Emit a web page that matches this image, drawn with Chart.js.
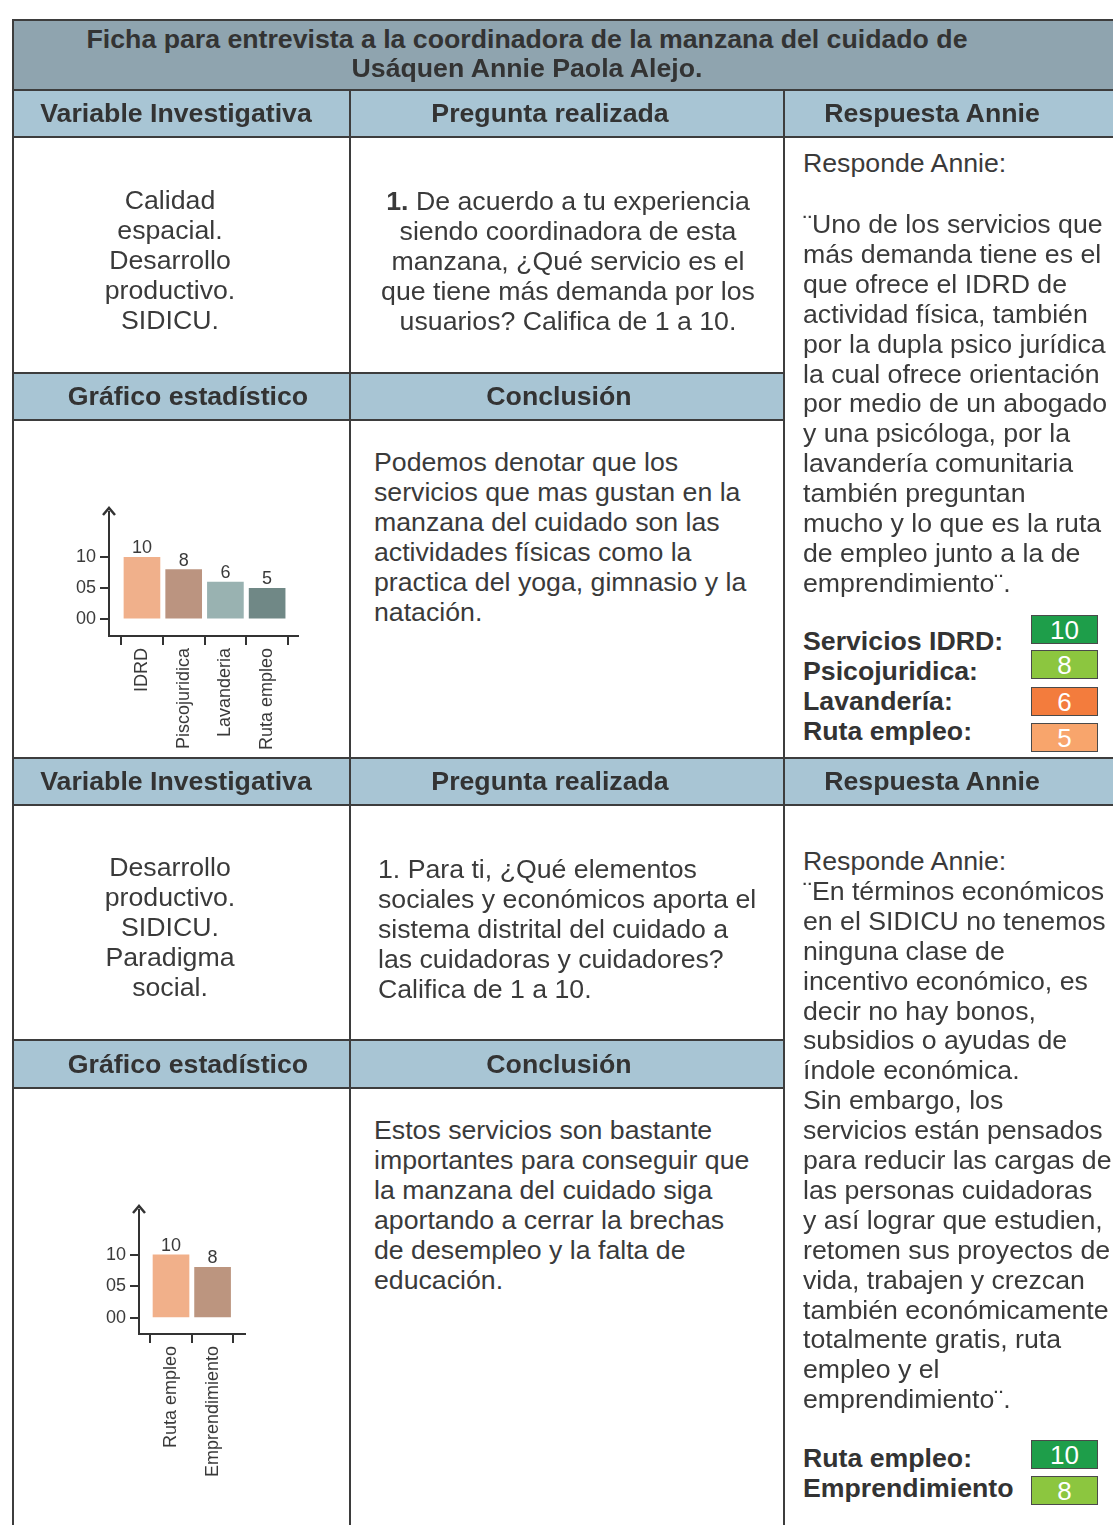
<!DOCTYPE html>
<html>
<head>
<meta charset="utf-8">
<script src="https://cdn.jsdelivr.net/npm/chart.js@4"></script>
<style>
  html, body { margin: 0; padding: 0; background: #fff; }
  #page { position: relative; width: 1113px; height: 1525px; overflow: hidden; background: #fff;
          font-family: 'Liberation Sans', Arial, sans-serif; color: #3a3a3a; }
  .fill { position: absolute; }
  .line { position: absolute; background: #3d3d3d; }
  .t { position: absolute; font-size: 26.7px; line-height: 30px; white-space: nowrap; }
  .b { font-weight: bold; color: #333; }
  .c { text-align: center; width: 1000px; }
  .box { position: absolute; width: 66px; border: 1px solid #4a4a4a; color: #fff; font-size: 26px;
         text-align: center; box-sizing: border-box; }
  canvas { position: absolute; }
</style>
</head>
<body>
<div id="page">
  <canvas id="chart1"></canvas>
  <canvas id="chart2"></canvas>
</div>
<script>
// data
const services1 = ['IDRD', 'Piscojuridica', 'Lavanderia', 'Ruta empleo'];
const ratings1 = [10, 8, 6, 5];
const barColors1 = ['#f0b08b', '#bb9480', '#99b2b1', '#708886'];

const services2 = ['Ruta empleo', 'Emprendimiento'];
const ratings2 = [10, 8];
const barColors2 = ['#f1b08a', '#bc957f'];

const yTickValues = [0, 5, 10];

const scoreLabels1 = ['Servicios IDRD:', 'Psicojuridica:', 'Lavandería:', 'Ruta empleo:'];
const scoreValues1 = [10, 8, 6, 5];
const scoreLabels2 = ['Ruta empleo:', 'Emprendimiento'];
const scoreValues2 = [10, 8];
const scoreColors = ['#1e9e4a', '#8cc63f', '#f37c3d', '#f8a56c'];

const page = document.getElementById('page');

function rect(x, y, w, h, color, cls) {
  const d = document.createElement('div');
  d.className = cls || 'fill';
  d.style.left = x + 'px'; d.style.top = y + 'px';
  d.style.width = w + 'px'; d.style.height = h + 'px';
  d.style.background = color;
  page.appendChild(d);
  return d;
}
// text line, y = visual middle of the line
function text(x, y, str, opts) {
  opts = opts || {};
  const d = document.createElement('div');
  d.className = 't' + (opts.bold ? ' b' : '') + (opts.center ? ' c' : '');
  d.style.left = (opts.center ? x - 500 : x) + 'px';
  d.style.top = (y - 15) + 'px';
  d.innerHTML = str;
  page.appendChild(d);
}
function lines(x, y0, arr, opts, step) {
  arr.forEach((s, i) => text(x, y0 + i * (step || 29.9), s, opts));
}

// cell fills
const dark = '#8fa4af', light = '#a8c5d4';
rect(12, 20, 1101, 70, dark);
rect(12, 90, 1101, 47, light);
rect(12, 373, 772, 47, light);
rect(12, 758, 1101, 47, light);
rect(12, 1040, 772, 48, light);

// borders
rect(12, 19, 1101, 2, '#3d3d3d', 'line');
rect(12, 19, 2, 1506, '#3d3d3d', 'line');
[89, 136, 757, 804].forEach(y => rect(12, y, 1101, 2, '#3d3d3d', 'line'));
[372, 419, 1039, 1087].forEach(y => rect(12, y, 772, 2, '#3d3d3d', 'line'));
rect(349, 89, 2, 1436, '#3d3d3d', 'line');
rect(783, 89, 2, 1436, '#3d3d3d', 'line');

// title
text(527, 39, 'Ficha para entrevista a la coordinadora de la manzana del cuidado de', { bold: true, center: true });
text(527, 68, 'Usáquen Annie Paola Alejo.', { bold: true, center: true });

// headers
[113, 781].forEach(y => {
  text(176, y, 'Variable Investigativa', { bold: true, center: true });
  text(550, y, 'Pregunta realizada', { bold: true, center: true });
  text(932, y, 'Respuesta Annie', { bold: true, center: true });
});
[396, 1064].forEach(y => {
  text(188, y, 'Gráfico estadístico', { bold: true, center: true });
  text(559, y, 'Conclusión', { bold: true, center: true });
});

// row 1
lines(170, 200, ['Calidad', 'espacial.', 'Desarrollo', 'productivo.', 'SIDICU.'], { center: true });
lines(568, 201, ['<b>1.</b> De acuerdo a tu experiencia', 'siendo coordinadora de esta',
  'manzana, ¿Qué servicio es el', 'que tiene más demanda por los', 'usuarios? Califica de 1 a 10.'], { center: true });
lines(374, 462, ['Podemos denotar que los', 'servicios que mas gustan en la', 'manzana del cuidado son las',
  'actividades físicas como la', 'practica del yoga, gimnasio y la', 'natación.']);
text(803, 163, 'Responde Annie:');
lines(803, 224, ['¨Uno de los servicios que', 'más demanda tiene es el', 'que ofrece el IDRD de',
  'actividad física, también', 'por la dupla psico jurídica', 'la cual ofrece orientación',
  'por medio de un abogado', 'y una psicóloga, por la', 'lavandería comunitaria',
  'también preguntan', 'mucho y lo que es la ruta', 'de empleo junto a la de', 'emprendimiento¨.']);
lines(803, 641, scoreLabels1, { bold: true });
const boxTops1 = [615, 650, 687, 723];
scoreValues1.forEach((v, i) => {
  const d = rect(1031, boxTops1[i], 67, 29, scoreColors[i], 'box');
  d.style.lineHeight = '28px';
  d.textContent = v;
});

// row 2
lines(170, 867, ['Desarrollo', 'productivo.', 'SIDICU.', 'Paradigma', 'social.'], { center: true });
lines(378, 869, ['1. Para ti, ¿Qué elementos', 'sociales y económicos aporta el', 'sistema distrital del cuidado a',
  'las cuidadoras y cuidadores?', 'Califica de 1 a 10.']);
lines(374, 1130, ['Estos servicios son bastante', 'importantes para conseguir que', 'la manzana del cuidado siga',
  'aportando a cerrar la brechas', 'de desempleo y la falta de', 'educación.']);
lines(803, 861, ['Responde Annie:', '¨En términos económicos', 'en el SIDICU no tenemos', 'ninguna clase de',
  'incentivo económico, es', 'decir no hay bonos,', 'subsidios o ayudas de', 'índole económica.',
  'Sin embargo, los', 'servicios están pensados', 'para reducir las cargas de', 'las personas cuidadoras',
  'y así lograr que estudien,', 'retomen sus proyectos de', 'vida, trabajen y crezcan',
  'también económicamente', 'totalmente gratis, ruta', 'empleo y el', 'emprendimiento¨.']);
lines(803, 1458, scoreLabels2, { bold: true });
const boxTops2 = [1440, 1476];
scoreValues2.forEach((v, i) => {
  const d = rect(1031, boxTops2[i], 67, 29, scoreColors[i], 'box');
  d.style.lineHeight = '28px';
  d.textContent = v;
});

// charts
const axisArrowAndLabels = {
  id: 'axisArrowAndLabels',
  afterDraw(chart) {
    const ctx = chart.ctx, a = chart.chartArea;
    ctx.save();
    ctx.strokeStyle = '#333'; ctx.lineWidth = 2.5;
    ctx.beginPath();
    ctx.moveTo(a.left - 6, a.top + 3);
    ctx.lineTo(a.left, a.top - 4);
    ctx.lineTo(a.left + 6, a.top + 3);
    ctx.stroke();
    ctx.fillStyle = '#3a3a3a';
    ctx.font = '18px "Liberation Sans", Arial, sans-serif';
    ctx.textAlign = 'center'; ctx.textBaseline = 'bottom';
    const meta = chart.getDatasetMeta(0);
    meta.data.forEach((bar, i) => {
      ctx.fillText(chart.data.datasets[0].data[i].y, bar.x, bar.y);
    });
    ctx.restore();
  }
};

function makeChart(id, pos, labels, values, colors, xr, yr, xAxisH) {
  const cv = document.getElementById(id);
  cv.width = pos.w; cv.height = pos.h;
  cv.style.left = pos.x + 'px'; cv.style.top = pos.y + 'px';
  cv.style.width = pos.w + 'px'; cv.style.height = pos.h + 'px';
  new Chart(cv, {
    type: 'bar',
    data: {
      datasets: [{
        data: values.map((v, i) => ({ x: i, y: v })),
        backgroundColor: colors,
        barThickness: 36,
        borderWidth: 0
      }]
    },
    options: {
      responsive: false,
      animation: false,
      devicePixelRatio: 1,
      layout: { padding: { top: pos.padTop, right: 12, left: 0, bottom: 0 } },
      plugins: { legend: { display: false }, tooltip: { enabled: false } },
      scales: {
        x: {
          type: 'linear', min: xr[0], max: xr[1], offset: false,
          afterBuildTicks: s => { s.ticks = labels.map((_, i) => ({ value: i })); },
          afterFit: s => { s.height = xAxisH; },
          ticks: {
            autoSkip: false, minRotation: 90, maxRotation: 90, padding: 3,
            color: '#3a3a3a', font: { family: 'Liberation Sans', size: 18 },
            callback: v => labels[v]
          },
          grid: { drawOnChartArea: false, drawTicks: true, tickLength: 9, color: '#333', lineWidth: 2 },
          border: { display: true, color: '#333', width: 2, dash: [5, 3] }
        },
        y: {
          min: yr[0], max: yr[1],
          afterBuildTicks: s => { s.ticks = yTickValues.map(v => ({ value: v })); },
          afterFit: s => { s.width = 54; },
          ticks: {
            padding: 4, color: '#3a3a3a', font: { family: 'Liberation Sans', size: 18 },
            callback: v => String(v).padStart(2, '0')
          },
          grid: { drawOnChartArea: false, drawTicks: true, tickLength: 9, color: '#333', lineWidth: 2 },
          border: { display: true, color: '#333', width: 2, dash: [5, 3] }
        }
      }
    },
    plugins: [axisArrowAndLabels]
  });
}

makeChart('chart1', { x: 55, y: 490, w: 255, h: 270, padTop: 22 },
  services1, ratings1, barColors1, [-0.79, 3.74], [-2.7, 17.3], 124);
makeChart('chart2', { x: 85, y: 1188, w: 172, h: 337, padTop: 22 },
  services2, ratings2, barColors2, [-0.77, 1.78], [-2.55, 17.1], 191);
</script>
</body>
</html>
